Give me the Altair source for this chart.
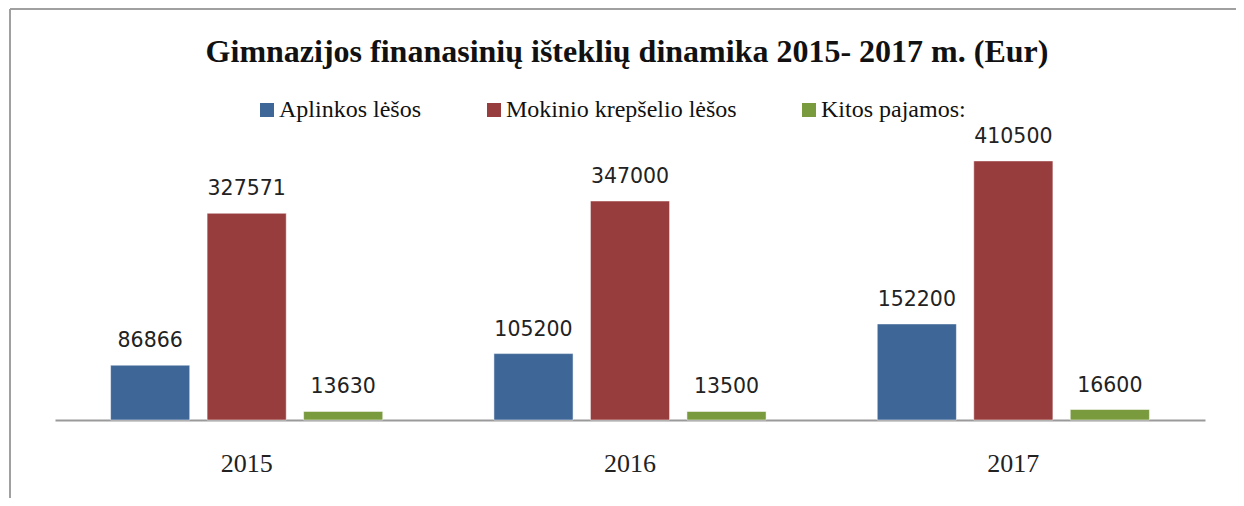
import altair as alt
import pandas as pd

years = ["2015", "2016", "2017"]
series = ["Aplinkos lėšos", "Mokinio krepšelio lėšos", "Kitos pajamos:"]
aplinkos = [86866, 105200, 152200]
mokinio = [327571, 347000, 410500]
kitos = [13630, 13500, 16600]
colors = ["#3e6697", "#983d3d", "#7a9a3e"]
title_text = "Gimnazijos finanasinių išteklių dinamika 2015- 2017 m. (Eur)"

rows = []
for s, vals in zip(series, [aplinkos, mokinio, kitos]):
    for y, v in zip(years, vals):
        rows.append({"Metai": y, "Serija": s, "Reikšmė": v})
df = pd.DataFrame(rows)

x_enc = alt.X("Metai:N", sort=years, title=None,
              scale=alt.Scale(paddingInner=0, paddingOuter=0),
              axis=alt.Axis(domainColor="#9a9a9a", domainWidth=2, ticks=False,
                            labelAngle=0, labelFont="Liberation Serif",
                            labelFontSize=26, labelColor="#222",
                            labelPadding=30, grid=False))
xo_enc = alt.XOffset("Serija:N", sort=series,
                     scale=alt.Scale(paddingInner=0.18, paddingOuter=0.576))
y_enc = alt.Y("Reikšmė:Q", scale=alt.Scale(domain=[0, 450000], nice=False),
              axis=None)

base = alt.Chart(df)
bars = base.mark_bar(stroke="white", strokeWidth=0.5).encode(
    x=x_enc, xOffset=xo_enc, y=y_enc,
    color=alt.Color("Serija:N", sort=series,
                    scale=alt.Scale(domain=series, range=colors),
                    legend=alt.Legend(orient="none", legendX=200, legendY=-38,
                                      direction="horizontal", title=None,
                                      symbolType="square", symbolSize=196,
                                      symbolStrokeWidth=0, labelOffset=0,
                                      columnPadding=60,
                                      labelFont="Liberation Serif",
                                      labelFontSize=24, labelColor="#111",
                                      labelLimit=400)),
)
labels = base.mark_text(baseline="bottom", dy=-14, font="DejaVu Sans",
                        fontSize=20.5, color="#222").encode(
    x=x_enc, xOffset=xo_enc, y=y_enc, text=alt.Text("Reikšmė:Q", format="d"))

tdf = pd.DataFrame({"t": [title_text]})
title = alt.Chart(tdf).mark_text(font="Liberation Serif", fontWeight="bold",
                                 fontSize=32, color="#111", baseline="alphabetic").encode(
    text="t:N", x=alt.value(572), y=alt.value(-74))

bdf = pd.DataFrame({"k": [0]})
left_border = alt.Chart(bdf).mark_rule(color="#a0a0a0", strokeWidth=2).encode(
    x=alt.value(-45), y=alt.value(-127), y2=alt.value(369))
top_border = alt.Chart(bdf).mark_rule(color="#a0a0a0", strokeWidth=2).encode(
    x=alt.value(-45), x2=alt.value(1190), y=alt.value(-127))

chart = alt.layer(left_border, top_border, bars, labels, title).properties(
    width=1150, height=284,
    padding={"left": 47, "top": 128, "right": 31, "bottom": 78},
    autosize=alt.AutoSizeParams(type="none"),
).configure(
    background="white", view=alt.ViewConfig(stroke=None),
    legend=alt.LegendConfig(labelFont="Liberation Serif", labelFontSize=24),
)

chart.save("out.html", embed_options={"renderer": "svg", "actions": False})
